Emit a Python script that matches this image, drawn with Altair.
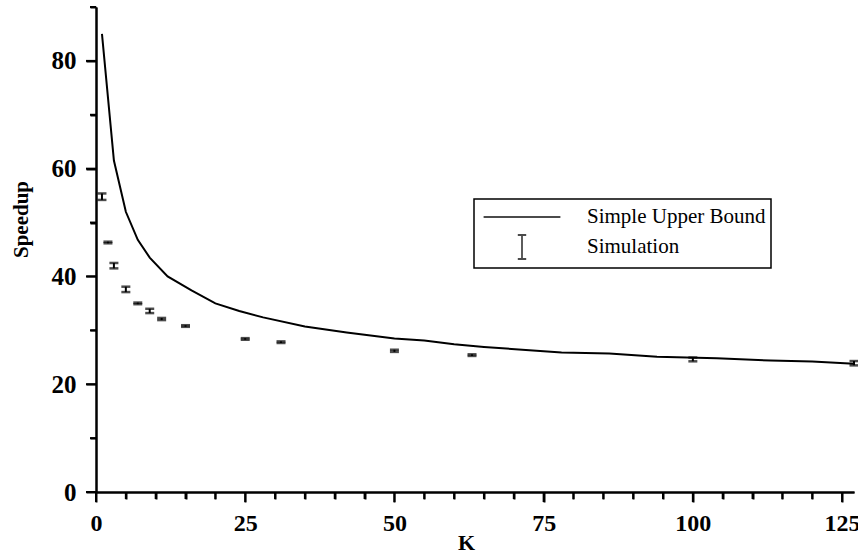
import altair as alt
import pandas as pd

# Simple Upper Bound curve
bound_k = [1, 3, 5, 7, 9, 12, 16, 20, 24, 28, 35, 42, 50, 55, 60, 65, 78, 86, 94, 104, 113, 120, 127]
bound_speedup = [85.0, 61.5, 52.0, 46.8, 43.5, 40.0, 37.4, 35.0, 33.6, 32.4, 30.7, 29.6, 28.5,
                 28.1, 27.4, 26.9, 25.9, 25.7, 25.1, 24.8, 24.4, 24.2, 23.8]

# Simulation results (mean and half-width of error bar)
sim_k = [1, 2, 3, 5, 7, 9, 11, 15, 25, 31, 50, 63, 100, 127]
sim_speedup = [54.8, 46.3, 42.0, 37.6, 35.0, 33.6, 32.1, 30.8, 28.4, 27.8, 26.2, 25.4, 24.6, 23.9]
sim_err = [0.6, 0.15, 0.5, 0.5, 0.15, 0.4, 0.2, 0.15, 0.15, 0.15, 0.2, 0.15, 0.35, 0.4]

series_names = ["Simple Upper Bound", "Simulation"]

x_major = [0, 25, 50, 75, 100, 125]
x_minor = [v for v in range(0, 128, 5) if v % 25 != 0]
y_major = [0, 20, 40, 60, 80]
y_minor = [10, 30, 50, 70, 90]

FONT = "Liberation Serif"

bound_df = pd.DataFrame({"k": bound_k, "s": bound_speedup})
sim_df = pd.DataFrame({"k": sim_k, "s": sim_speedup, "e": sim_err})
sim_df["lo"] = sim_df["s"] - sim_df["e"]
sim_df["hi"] = sim_df["s"] + sim_df["e"]
legend_df = pd.DataFrame({"series": series_names, "k": [0, 0], "s": [0, 0]})

xscale = alt.Scale(domain=[0, 127], nice=False, zero=False)
yscale = alt.Scale(domain=[0, 90], nice=False)

common = dict(domainColor="black", domainWidth=2, grid=False)

x_axis_major = alt.Axis(
    orient="bottom", values=x_major, tickSize=10, tickWidth=2, tickColor="black", **common,
    labelFont=FONT, labelFontWeight="bold", labelFontSize=24, labelColor="black",
    labelPadding=9, labelFlush=False,
    title="K", titleFont=FONT, titleFontWeight="bold", titleFontSize=22, titleColor="black",
    titleX=370, titleY=50, titleBaseline="middle", titleAlign="center",
)
y_axis_major = alt.Axis(
    orient="left", values=y_major, tickSize=10, tickWidth=2, tickColor="black", **common,
    labelFont=FONT, labelFontWeight="bold", labelFontSize=25, labelColor="black",
    labelPadding=10, labelFlush=False,
    title="Speedup", titleFont=FONT, titleFontWeight="bold", titleFontSize=21, titleColor="black",
    titleX=-75, titleY=212, titleAngle=-90, titleBaseline="middle", titleAlign="center",
)
x_axis_minor = alt.Axis(orient="bottom", values=x_minor, tickSize=7, tickWidth=2, tickColor="black",
                        labels=False, title=None, **common)
y_axis_minor = alt.Axis(orient="left", values=y_minor, tickSize=6, tickWidth=2, tickColor="black",
                        labels=False, title=None, **common)

line = alt.Chart(bound_df).mark_line(color="black", strokeWidth=2).encode(
    x=alt.X("k:Q", scale=xscale, axis=x_axis_major),
    y=alt.Y("s:Q", scale=yscale, axis=y_axis_major),
)

rule = alt.Chart(sim_df).mark_rule(color="black", strokeWidth=2).encode(
    x=alt.X("k:Q", scale=xscale, axis=x_axis_minor),
    y=alt.Y("lo:Q", scale=yscale, axis=y_axis_minor),
    y2="hi:Q",
)
cap_lo = alt.Chart(sim_df).mark_tick(color="black", thickness=2.5, size=9, orient="horizontal").encode(
    x=alt.X("k:Q", scale=xscale, axis=None), y=alt.Y("lo:Q", scale=yscale, axis=None)
)
cap_hi = alt.Chart(sim_df).mark_tick(color="black", thickness=2.5, size=9, orient="horizontal").encode(
    x=alt.X("k:Q", scale=xscale, axis=None), y=alt.Y("hi:Q", scale=yscale, axis=None)
)

# Axis tick marks drawn from the tick value lists (scale-positioned, outward from the axes)
PLOT_H = 485
xt_major = alt.Chart(pd.DataFrame({"v": x_major})).mark_rule(color="black", strokeWidth=2).encode(
    x=alt.X("v:Q", scale=xscale, axis=None), y=alt.value(PLOT_H), y2=alt.value(PLOT_H + 10)
)
xt_minor = alt.Chart(pd.DataFrame({"v": x_minor})).mark_rule(color="black", strokeWidth=2).encode(
    x=alt.X("v:Q", scale=xscale, axis=None), y=alt.value(PLOT_H), y2=alt.value(PLOT_H + 7)
)
yt_major = alt.Chart(pd.DataFrame({"v": y_major})).mark_rule(color="black", strokeWidth=2).encode(
    y=alt.Y("v:Q", scale=yscale, axis=None), x=alt.value(0), x2=alt.value(-10)
)
yt_minor = alt.Chart(pd.DataFrame({"v": y_minor})).mark_rule(color="black", strokeWidth=2).encode(
    y=alt.Y("v:Q", scale=yscale, axis=None), x=alt.value(0), x2=alt.value(-6)
)

LINE_PATH = "M-3.2,0H3.2"
I_PATH = "M-0.35,-1H0.35M0,-1V1M-0.35,1H0.35"

legend_props = dict(
    title=None, orient="none", legendX=378, legendY=192,
    strokeColor="black", padding=5,
    symbolOffset=30, labelOffset=52, rowPadding=4,
    symbolStrokeWidth=1.8, symbolStrokeColor="black", symbolFillColor="transparent",
    labelFont=FONT, labelFontSize=21, labelColor="black", labelLimit=400,
    symbolSize=576,
)

legend_layer = alt.Chart(legend_df).mark_point(filled=False, size=576, strokeWidth=2).encode(
    x=alt.X("k:Q", scale=xscale, axis=None),
    y=alt.Y("s:Q", scale=yscale, axis=None),
    shape=alt.Shape("series:N", scale=alt.Scale(domain=series_names, range=[LINE_PATH, I_PATH]),
                    legend=alt.Legend(**legend_props)),
    color=alt.Color("series:N", scale=alt.Scale(domain=series_names, range=["black", "black"]),
                    legend=alt.Legend(**legend_props)),
).transform_filter("datum.k < 0")

chart = alt.layer(
    line, rule, cap_lo, cap_hi, xt_major, xt_minor, yt_major, yt_minor, legend_layer
).resolve_axis(
    x="independent", y="independent"
).properties(
    width=758, height=PLOT_H,
    background="white",
    padding={"left": 96, "top": 7, "right": 4, "bottom": 62},
    autosize=alt.AutoSizeParams(type="none"),
).configure_view(strokeOpacity=0).configure_legend(strokeWidth=1.5)

chart.save("out.html", embed_options={"renderer": "svg", "actions": False})
